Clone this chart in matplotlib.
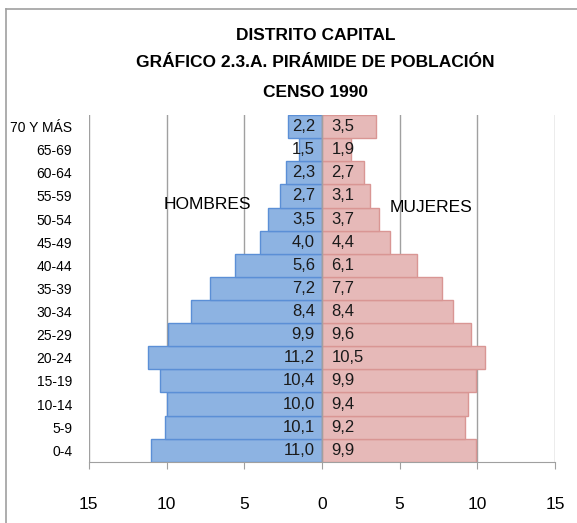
import matplotlib.pyplot as plt
from matplotlib.lines import Line2D

# datos
grupos = ['0-4', '5-9', '10-14', '15-19', '20-24', '25-29', '30-34', '35-39',
          '40-44', '45-49', '50-54', '55-59', '60-64', '65-69', '70 Y MÁS']
hombres = [11.0, 10.1, 10.0, 10.4, 11.2, 9.9, 8.4, 7.2, 5.6, 4.0, 3.5, 2.7, 2.3, 1.5, 2.2]
mujeres = [9.9, 9.2, 9.4, 9.9, 10.5, 9.6, 8.4, 7.7, 6.1, 4.4, 3.7, 3.1, 2.7, 1.9, 3.5]
xticks = [-15, -10, -5, 0, 5, 10, 15]

plt.rcParams['font.family'] = ['Liberation Sans', 'DejaVu Sans']

fig = plt.figure(figsize=(5.77, 5.23), dpi=100)
ax = fig.add_axes([0.154, 0.117, 0.808, 0.663])

y = list(range(len(grupos)))
ax.barh(y, [-v for v in hombres], height=1.0, color='#8db3e2', edgecolor='#5b8fd6', linewidth=1)
ax.barh(y, mujeres, height=1.0, color='#e6b9b8', edgecolor='#d99694', linewidth=1)

# etiquetas de datos
for i in y:
    ax.text(-0.45, i, f'{hombres[i]:.1f}'.replace('.', ','), ha='right', va='center',
            fontsize=12, color='#1a1a1a')
    ax.text(0.6, i, f'{mujeres[i]:.1f}'.replace('.', ','), ha='left', va='center',
            fontsize=12, color='#1a1a1a')

ax.text(-7.35, 10.65, 'HOMBRES', ha='center', va='center', fontsize=12.5)
ax.text(7.0, 10.5, 'MUJERES', ha='center', va='center', fontsize=12.5)

ax.set_xlim(-15, 15)
ax.set_ylim(-0.5, len(grupos) - 0.5)
ax.set_xticks(xticks)
ax.set_xticklabels([str(abs(t)) for t in xticks], fontsize=12.5)
ax.set_yticks(y)
ax.set_yticklabels(grupos, fontsize=10)
ax.tick_params(axis='y', length=0, pad=12)
ax.tick_params(axis='x', length=5, color='#a0a0a0', pad=20)
ax.grid(axis='x', color='#a0a0a0', linewidth=1)
ax.set_axisbelow(True)
for s in ['top', 'right', 'left']:
    ax.spines[s].set_visible(False)
ax.spines['bottom'].set_color('#a0a0a0')
ax.axvline(0, color='#a0a0a0', linewidth=1, zorder=3)

fig.text(0.547, 0.933, 'DISTRITO CAPITAL', ha='center', va='center', fontsize=12.5, fontweight='bold')
fig.text(0.547, 0.880, 'GRÁFICO 2.3.A. PIRÁMIDE DE POBLACIÓN', ha='center', va='center', fontsize=12.5, fontweight='bold')
fig.text(0.547, 0.824, 'CENSO 1990', ha='center', va='center', fontsize=12.5, fontweight='bold')

# marco exterior (solo izquierda y arriba visibles)
fig.add_artist(Line2D([0.011, 0.011], [0.0, 0.983], transform=fig.transFigure, color='#a0a0a0', linewidth=1.2))
fig.add_artist(Line2D([0.011, 1.0], [0.983, 0.983], transform=fig.transFigure, color='#a0a0a0', linewidth=1.2))

fig.savefig('out.png', dpi=100)
